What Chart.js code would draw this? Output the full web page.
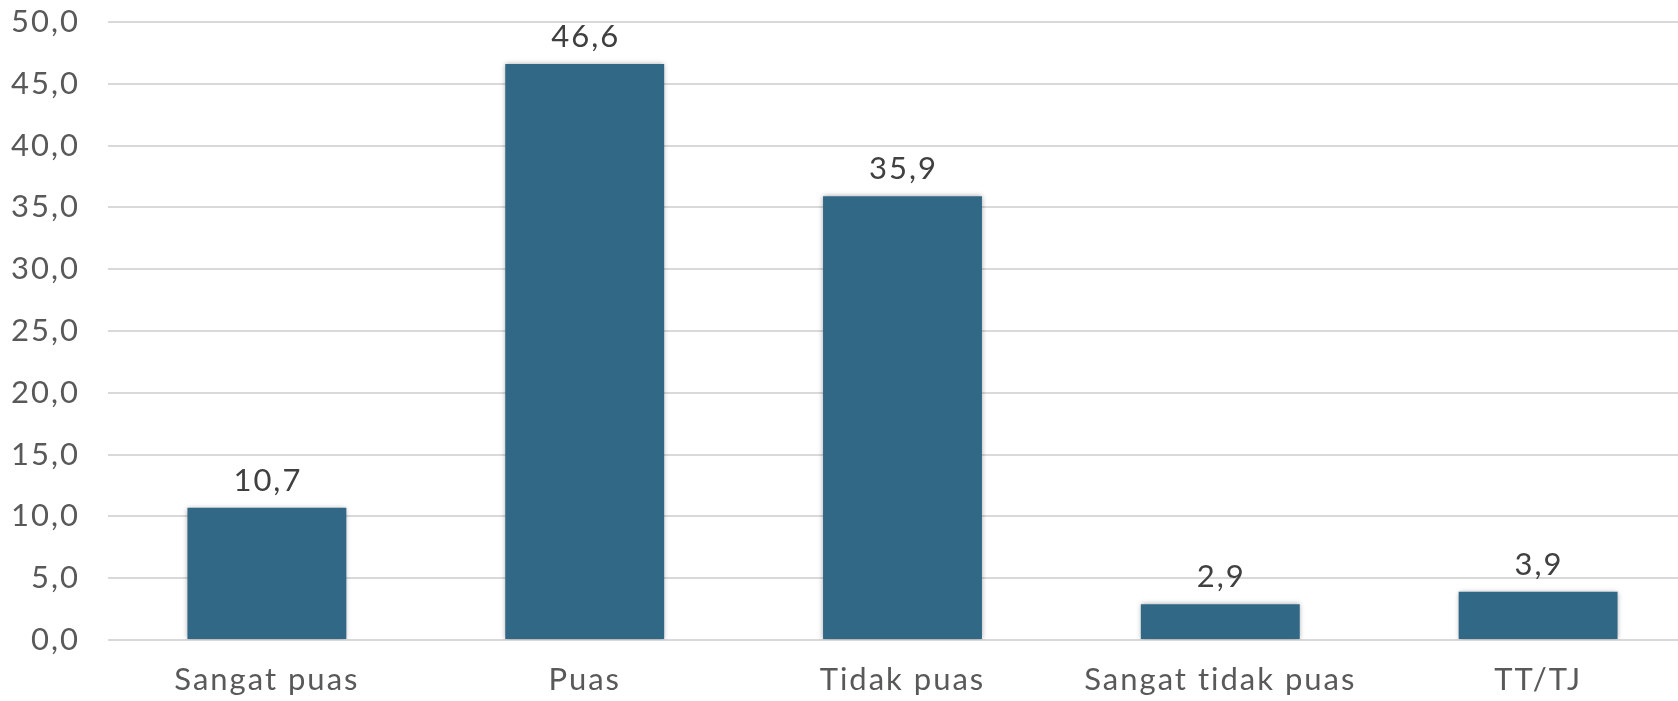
<!DOCTYPE html>
<html>
<head>
<meta charset="utf-8">
<script src="https://cdn.jsdelivr.net/npm/chart.js@4.4.0/dist/chart.umd.min.js"></script>
<style>
html,body{margin:0;padding:0;background:#fff;overflow:hidden;}
#wrap{width:1678px;height:701px;position:relative;overflow:hidden;}
#c{position:absolute;left:0;top:0;}
</style>
</head>
<body>
<div id="wrap"><canvas id="c" width="1700" height="701"></canvas></div>
<script>
const categories = ["Sangat puas", "Puas", "Tidak puas", "Sangat tidak puas", "TT/TJ"];
const values = [10.7, 46.6, 35.9, 2.9, 3.9];
const yTicks = [0, 5, 10, 15, 20, 25, 30, 35, 40, 45, 50];

const FONT = "Lato, 'DejaVu Sans', sans-serif";
const fmt = v => v.toFixed(1).replace('.', ',');

const spacingPlugin = {
  id: 'spacing',
  beforeDraw(chart) { chart.ctx.letterSpacing = '2px'; }
};

const shadowPlugin = {
  id: 'shadow',
  beforeDatasetsDraw(chart) {
    const ctx = chart.ctx;
    ctx.save();
    ctx.shadowColor = 'rgba(0,0,0,0.35)';
    ctx.shadowBlur = 5;
    ctx.shadowOffsetX = 0;
    ctx.shadowOffsetY = 0;
  },
  afterDatasetsDraw(chart) {
    chart.ctx.restore();
  }
};

const labelPlugin = {
  id: 'dataLabels',
  afterDatasetsDraw(chart) {
    const ctx = chart.ctx;
    const meta = chart.getDatasetMeta(0);
    ctx.save();
    ctx.letterSpacing = '2px';
    ctx.font = "31px " + FONT;
    ctx.fillStyle = '#404040';
    ctx.textAlign = 'center';
    ctx.textBaseline = 'alphabetic';
    meta.data.forEach((bar, i) => {
      ctx.fillText(fmt(values[i]), bar.x + 1, bar.y - 17);
    });
    ctx.restore();
  }
};

new Chart(document.getElementById('c'), {
  type: 'bar',
  data: {
    labels: categories,
    datasets: [{
      data: values,
      backgroundColor: '#316886',
      borderWidth: 0,
      barPercentage: 0.5,
      categoryPercentage: 1.0
    }]
  },
  options: {
    responsive: false,
    animation: false,
    layout: { padding: { top: 22, right: 3, left: 0, bottom: 0 } },
    plugins: { legend: { display: false }, tooltip: { enabled: false } },
    scales: {
      x: {
        grid: { display: false, drawTicks: false },
        border: { display: false },
        ticks: { font: { size: 31, family: FONT }, color: '#595959', padding: 21, maxRotation: 0 },
        afterFit(s) { s.height = 61; s.paddingLeft = 0; s.paddingRight = 0; }
      },
      y: {
        min: 0, max: 50,
        afterBuildTicks(s) { s.ticks = yTicks.map(v => ({ value: v })); },
        grid: { color: '#d9d9d9', lineWidth: 2, drawTicks: false },
        border: { display: false },
        ticks: { font: { size: 31, family: FONT }, color: '#595959', padding: 28, callback: v => fmt(v) },
        afterFit(s) { s.width = 108; s.paddingTop = 0; s.paddingBottom = 0; }
      }
    }
  },
  plugins: [spacingPlugin, shadowPlugin, labelPlugin]
});
</script>
</body>
</html>
